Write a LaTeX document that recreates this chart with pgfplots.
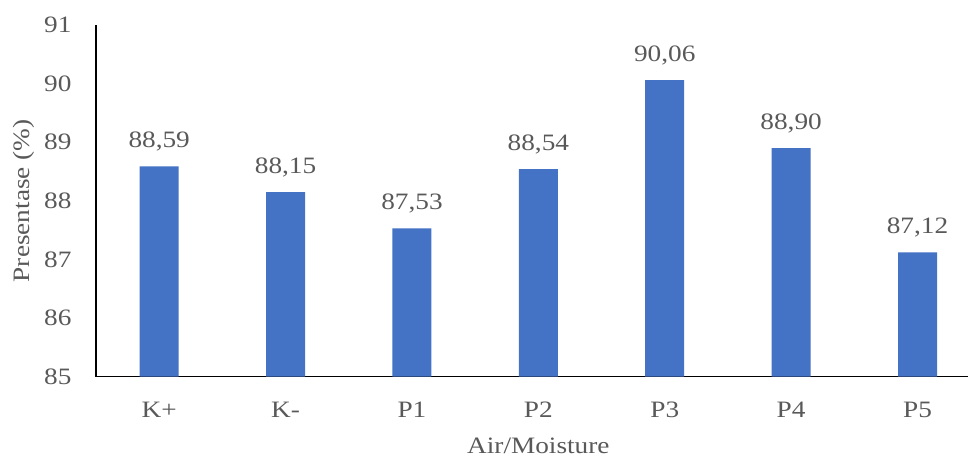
\documentclass[border=0pt]{standalone}
\usepackage{pgfplots}
\pgfplotsset{compat=1.18}
\usepackage{fontspec}
\setmainfont{Liberation Serif}[FakeStretch=1.16]
\definecolor{barblue}{HTML}{4472C4}
\definecolor{txtgray}{HTML}{595959}
\newcommand\chartfont{\fontsize{23.5}{28}\selectfont}

\begin{document}
\begin{tikzpicture}
\begin{axis}[
  scale only axis,
  width=884.7pt, height=351.7pt,
  xmin=-0.5, xmax=6.5,
  ymin=85, ymax=91,
  ytick={85,86,87,88,89,90,91},
  xtick={0,1,2,3,4,5,6},
  xticklabels={K+,K-,P1,P2,P3,P4,P5},
  axis x line=bottom, axis y line=left,
  axis line style={-, black, line width=1.5pt},
  major tick length=0pt,
  tick style={draw=none},
  /pgf/number format/assume math mode=true,
  yticklabel style={font=\chartfont, text=txtgray, anchor=east, inner sep=0pt, xshift=-24.3pt},
  xticklabel style={font=\chartfont, text=txtgray, anchor=base, inner sep=0pt, yshift=-40.6pt},
  every axis y label/.style={at={([xshift=-72pt]rel axis cs:0,0.5)}, anchor=center, rotate=90, font=\chartfont, text=txtgray},
  every axis x label/.style={at={([yshift=-76.6pt]rel axis cs:0.5,0)}, anchor=base, font=\chartfont, text=txtgray},
  ylabel={Presentase (\%)},
  xlabel={Air/Moisture},
  ybar, bar width=39pt,
  nodes near coords={\pgfmathprintnumber[fixed,fixed zerofill,precision=2,use comma]{\pgfplotspointmeta}},
  every node near coord/.append style={font=\chartfont, text=txtgray, anchor=base, inner sep=0pt, yshift=19pt},
  clip=false,
]
\addplot[fill=barblue, draw=none, bar shift=0pt] coordinates {
  (0,88.59) (1,88.15) (2,87.53) (3,88.54) (4,90.06) (5,88.90) (6,87.12)
};
\coordinate (o) at (rel axis cs:0,0);
\end{axis}
\pgfresetboundingbox
\path[use as bounding box] ([shift={(-96pt,-80.3pt)}]o) rectangle ([shift={(872pt,376.7pt)}]o);
\end{tikzpicture}
\end{document}
